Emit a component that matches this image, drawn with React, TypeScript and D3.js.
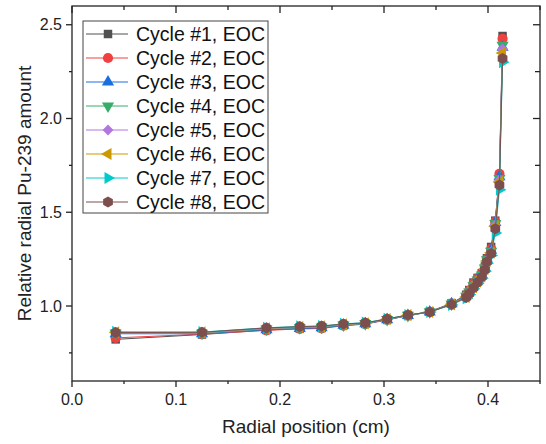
import React, { useEffect, useRef } from 'react';
import * as d3 from 'd3';

// radial mesh positions (cm)
const positions = [
  0.042, 0.125, 0.187, 0.219, 0.240, 0.261, 0.282, 0.303, 0.323, 0.344, 0.365,
  0.379, 0.382, 0.386, 0.390, 0.394, 0.397, 0.399, 0.403, 0.407, 0.411, 0.414,
];

const cycle1 = [0.822, 0.848, 0.872, 0.880, 0.883, 0.897, 0.905, 0.928, 0.950, 0.970, 1.015, 1.060, 1.085, 1.125, 1.150, 1.175, 1.210, 1.255, 1.315, 1.455, 1.695, 2.440];
const cycle2 = [0.830, 0.850, 0.870, 0.878, 0.880, 0.895, 0.903, 0.926, 0.949, 0.969, 1.013, 1.058, 1.082, 1.120, 1.148, 1.172, 1.208, 1.252, 1.305, 1.450, 1.705, 2.425];
const cycle3 = [0.852, 0.852, 0.874, 0.880, 0.884, 0.897, 0.905, 0.927, 0.949, 0.968, 1.012, 1.055, 1.078, 1.112, 1.142, 1.168, 1.205, 1.250, 1.298, 1.445, 1.690, 2.380];
const cycle4 = [0.856, 0.855, 0.877, 0.884, 0.887, 0.899, 0.906, 0.928, 0.950, 0.969, 1.011, 1.052, 1.075, 1.108, 1.138, 1.165, 1.202, 1.246, 1.292, 1.440, 1.680, 2.390];
const cycle5 = [0.858, 0.857, 0.879, 0.886, 0.889, 0.901, 0.907, 0.929, 0.950, 0.968, 1.010, 1.050, 1.072, 1.104, 1.134, 1.162, 1.200, 1.243, 1.288, 1.432, 1.672, 2.370];
const cycle6 = [0.860, 0.859, 0.881, 0.888, 0.891, 0.902, 0.908, 0.930, 0.951, 0.968, 1.009, 1.048, 1.069, 1.100, 1.130, 1.158, 1.197, 1.240, 1.284, 1.425, 1.662, 2.350];
const cycle7 = [0.862, 0.861, 0.884, 0.891, 0.893, 0.905, 0.911, 0.932, 0.952, 0.968, 1.006, 1.042, 1.062, 1.092, 1.120, 1.148, 1.185, 1.228, 1.270, 1.390, 1.620, 2.300];
const cycle8 = [0.858, 0.860, 0.883, 0.890, 0.893, 0.904, 0.910, 0.931, 0.952, 0.968, 1.008, 1.046, 1.066, 1.096, 1.126, 1.155, 1.193, 1.236, 1.280, 1.412, 1.645, 2.320];

const seriesNames = [
  'Cycle #1, EOC', 'Cycle #2, EOC', 'Cycle #3, EOC', 'Cycle #4, EOC',
  'Cycle #5, EOC', 'Cycle #6, EOC', 'Cycle #7, EOC', 'Cycle #8, EOC',
];
const seriesValues = [cycle1, cycle2, cycle3, cycle4, cycle5, cycle6, cycle7, cycle8];
const colors = ['#515151', '#F14040', '#1A6FDF', '#37AD6B', '#B177DE', '#CC9900', '#00CBCC', '#7D4E4E'];

const xTicks = [0, 0.1, 0.2, 0.3, 0.4];
const xMinorTicks = [0.05, 0.15, 0.25, 0.35, 0.45];
const yTicks = [1.0, 1.5, 2.0, 2.5];
const yMinorTicks = [0.75, 1.25, 1.75, 2.25];

const FONT = '"Liberation Sans", Arial, sans-serif';

const hexagon = {
  draw(context: any, size: number) {
    const r = Math.sqrt(size / (1.5 * Math.sqrt(3)));
    for (let i = 0; i < 6; i++) {
      const a = -Math.PI / 2 + (i * Math.PI) / 3;
      const px = r * Math.cos(a);
      const py = r * Math.sin(a);
      if (i === 0) context.moveTo(px, py);
      else context.lineTo(px, py);
    }
    context.closePath();
  },
};

// [symbol type, size, rotation]
const markers: [any, number, number][] = [
  [d3.symbolSquare, 72, 0],
  [d3.symbolCircle, 82, 0],
  [d3.symbolTriangle, 64, 0],
  [d3.symbolTriangle, 64, 180],
  [d3.symbolSquare, 58, 45],
  [d3.symbolTriangle, 64, -90],
  [d3.symbolTriangle, 64, 90],
  [hexagon, 82, 0],
];

const W = 546;
const H = 444;
const margin = { left: 72, right: 6, top: 6, bottom: 63 };

export default function App() {
  const ref = useRef<SVGSVGElement>(null);

  useEffect(() => {
    const svg = d3.select(ref.current);
    svg.selectAll('*').remove();

    const x = d3.scaleLinear().domain([0, 0.45]).range([margin.left, W - margin.right]);
    const y = d3.scaleLinear().domain([0.6, 2.6]).range([H - margin.bottom, margin.top]);
    const [x0, x1] = x.range();
    const [y0, y1] = y.range();
    const axisColor = '#222';

    const line = d3
      .line<number>()
      .x((d, i) => x(positions[i]))
      .y(d => y(d));

    const plot = svg.append('g');
    seriesValues.forEach((vals, s) => {
      const [type, size, rot] = markers[s];
      const sym = d3.symbol().type(type).size(size);
      plot
        .append('path')
        .attr('d', line(vals))
        .attr('fill', 'none')
        .attr('stroke', colors[s])
        .attr('stroke-width', 1);
      plot
        .append('g')
        .selectAll('path')
        .data(vals)
        .enter()
        .append('path')
        .attr('d', sym() as string)
        .attr('transform', (d, i) => `translate(${x(positions[i])},${y(d)}) rotate(${rot})`)
        .attr('fill', colors[s]);
    });

    // frame
    svg
      .append('rect')
      .attr('x', x0)
      .attr('y', y1)
      .attr('width', x1 - x0)
      .attr('height', y0 - y1)
      .attr('fill', 'none')
      .attr('stroke', axisColor)
      .attr('stroke-width', 1.3);

    const ticks = svg.append('g').attr('stroke', axisColor).attr('stroke-width', 1.3);
    xTicks.forEach(t => {
      ticks.append('line').attr('x1', x(t)).attr('x2', x(t)).attr('y1', y0).attr('y2', y0 + 6);
      ticks.append('line').attr('x1', x(t)).attr('x2', x(t)).attr('y1', y1).attr('y2', y1 + 7);
    });
    xMinorTicks.forEach(t => {
      ticks.append('line').attr('x1', x(t)).attr('x2', x(t)).attr('y1', y0).attr('y2', y0 + 3);
      ticks.append('line').attr('x1', x(t)).attr('x2', x(t)).attr('y1', y1).attr('y2', y1 + 4);
    });
    yTicks.forEach(t => {
      ticks.append('line').attr('x1', x0 - 6).attr('x2', x0).attr('y1', y(t)).attr('y2', y(t));
      ticks.append('line').attr('x1', x1 - 7).attr('x2', x1).attr('y1', y(t)).attr('y2', y(t));
    });
    yMinorTicks.forEach(t => {
      ticks.append('line').attr('x1', x0 - 3).attr('x2', x0).attr('y1', y(t)).attr('y2', y(t));
      ticks.append('line').attr('x1', x1 - 5).attr('x2', x1).attr('y1', y(t)).attr('y2', y(t));
    });

    const labels = svg.append('g').attr('font-family', FONT).attr('fill', '#222');
    labels
      .selectAll('.xt')
      .data(xTicks)
      .enter()
      .append('text')
      .attr('x', d => x(d))
      .attr('y', y0 + 24)
      .attr('text-anchor', 'middle')
      .attr('font-size', 16)
      .text(d => d.toFixed(1));
    labels
      .selectAll('.yt')
      .data(yTicks)
      .enter()
      .append('text')
      .attr('x', x0 - 10)
      .attr('y', d => y(d) + 5.5)
      .attr('text-anchor', 'end')
      .attr('font-size', 16)
      .text(d => d.toFixed(1));

    labels
      .append('text')
      .attr('x', (x0 + x1) / 2)
      .attr('y', y0 + 52)
      .attr('text-anchor', 'middle')
      .attr('font-size', 19)
      .text('Radial position (cm)');
    labels
      .append('text')
      .attr('transform', `translate(31,${(y0 + y1) / 2}) rotate(-90)`)
      .attr('text-anchor', 'middle')
      .attr('font-size', 19)
      .text('Relative radial Pu-239 amount');

    // legend
    const legend = svg.append('g').attr('transform', 'translate(83,21)');
    legend
      .append('rect')
      .attr('width', 185)
      .attr('height', 192)
      .attr('fill', 'white')
      .attr('stroke', '#444')
      .attr('stroke-width', 1);
    const items = legend
      .selectAll('.item')
      .data(seriesNames)
      .enter()
      .append('g')
      .attr('transform', (d, i) => `translate(0,${13 + i * 24})`);
    items
      .append('line')
      .attr('x1', 3)
      .attr('x2', 45)
      .attr('stroke', (d, i) => colors[i])
      .attr('stroke-width', 1);
    items
      .append('path')
      .attr('d', (d, i) => d3.symbol().type(markers[i][0]).size(markers[i][1])() as string)
      .attr('transform', (d, i) => `translate(25,0) rotate(${markers[i][2]})`)
      .attr('fill', (d, i) => colors[i]);
    items
      .append('text')
      .attr('x', 53)
      .attr('y', 7)
      .attr('font-family', FONT)
      .attr('font-size', 19.5)
      .attr('fill', '#111')
      .text(d => d);
  }, []);

  return <svg ref={ref} width={W} height={H} style={{ display: 'block', position: 'absolute', left: 0, top: 0 }} />;
}
